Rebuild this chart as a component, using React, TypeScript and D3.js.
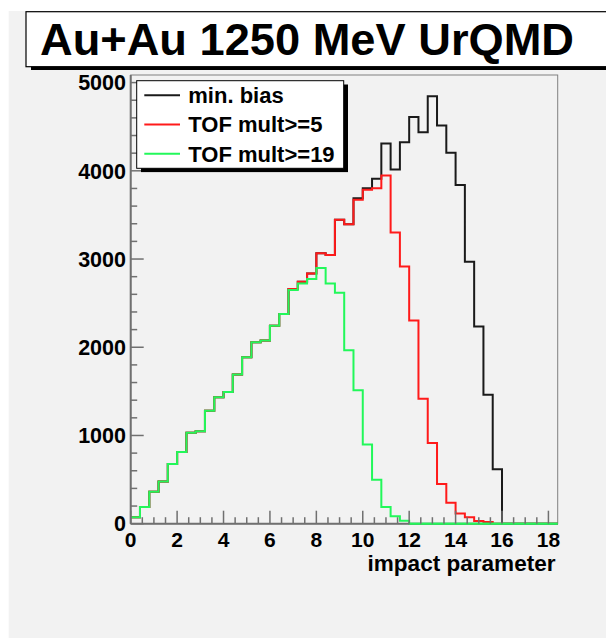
import React from "react";
import * as d3 from "d3";

// ---- data (bins of width 0.4 in impact parameter, 0 .. 18.4) ----
const binWidth = 0.4;
const xDomain = [0, 18.4];
const yDomain = [0, 5086];

const minBias = [
  72, 189, 362, 479, 678, 814, 1032, 1047, 1281, 1432, 1492, 1692, 1887, 2057, 2076, 2245, 2377,
  2660, 2742, 2836, 3066, 3047, 3446, 3394, 3690, 3801, 3910, 4310, 4016, 4324, 4610, 4437, 4844,
  4513, 4204, 3838, 2968, 2234, 1462, 618, 0, 0, 0, 0, 0, 0,
];
const tofMult5 = [
  72, 189, 362, 479, 678, 814, 1032, 1047, 1281, 1432, 1492, 1692, 1887, 2057, 2076, 2245, 2377,
  2660, 2742, 2836, 3066, 3047, 3446, 3394, 3672, 3785, 3801, 3948, 3300, 2915, 2302, 1417, 915,
  449, 237, 117, 72, 30, 19, 0, 0, 0, 0, 0, 0, 0,
];
const tofMult19 = [
  72, 189, 362, 479, 678, 814, 1032, 1047, 1281, 1432, 1492, 1692, 1887, 2057, 2076, 2245, 2377,
  2648, 2723, 2773, 2897, 2723, 2618, 1966, 1514, 897, 497, 189, 84, 34, 0, 0, 0, 0, 0, 0, 0, 0, 0,
  0, 0, 0, 0, 0, 0, 0,
];

const seriesNames = ["min. bias", "TOF mult>=5", "TOF mult>=19"];
const seriesColors = ["#1a1a1a", "#ff1a1a", "#22f85a"];
const xTickMajor = [0, 2, 4, 6, 8, 10, 12, 14, 16, 18];
const yTickMajor = [0, 1000, 2000, 3000, 4000, 5000];
const titleText = "Au+Au 1250 MeV UrQMD";
const xAxisTitle = "impact parameter";

const W = 606;
const H = 638;
const FONT = "'Liberation Sans', Arial, Helvetica, sans-serif";

export default function App() {
  const x = d3.scaleLinear().domain(xDomain).range([130.7, 557.7]);
  const y = d3.scaleLinear().domain(yDomain).range([523.7, 75]);

  const stepPath = (vals: number[]) => {
    const pts: [number, number][] = vals.map((v, i) => [i * binWidth, v]);
    pts.push([vals.length * binWidth, vals[vals.length - 1]]);
    return (
      d3
        .line<[number, number]>()
        .x((d) => x(d[0]))
        .y((d) => y(d[1]))
        .curve(d3.curveStepAfter)(pts) || ""
    );
  };

  const xMinor = d3.range(0, 18.4 + 1e-6, 0.5).filter((v) => Math.abs(v / 2 - Math.round(v / 2)) > 1e-6);
  const yMinor = d3.range(0, 5086, 200).filter((v) => v % 1000 !== 0);
  const axisCol = "#707070";
  const series = [minBias, tofMult5, tofMult19];

  return (
    <svg
      width={W}
      height={H}
      style={{ position: "absolute", left: 0, top: 0, display: "block" }}
      fontFamily={FONT}
    >
      <rect x={0} y={0} width={W} height={H} fill="#ffffff" />
      <rect x={8.7} y={11} width={W} height={H} fill="#f2f2f2" />

      {/* title box */}
      <rect x={31} y={16} width={W} height={54} fill="#000" />
      <rect x={26} y={11.7} width={W} height={55} fill="#fff" stroke="#000" strokeWidth={1.2} />
      <text x={40} y={55} fontSize={45} fontWeight="bold" fill="#000" textLength={534} lengthAdjust="spacingAndGlyphs">
        {titleText}
      </text>

      {/* frame */}
      <rect x={x(0)} y={y(yDomain[1])} width={x(xDomain[1]) - x(0)} height={y(0) - y(yDomain[1])} fill="none" stroke="#808080" strokeWidth={1} />

      {/* histograms */}
      {series.map((s, i) => (
        <path key={i} d={stepPath(s)} fill="none" stroke={seriesColors[i]} strokeWidth={2} />
      ))}

      {/* y axis */}
      <line x1={x(0)} x2={x(0)} y1={y(0)} y2={y(yDomain[1])} stroke={axisCol} strokeWidth={2} />
      {yTickMajor.map((t) => (
        <g key={"ym" + t}>
          <line x1={x(0)} x2={x(0) + 13} y1={y(t)} y2={y(t)} stroke={axisCol} strokeWidth={1.5} />
          <text x={126} y={y(t)} dy="0.36em" textAnchor="end" fontSize={21.5} fontWeight="bold" fill="#000">
            {t}
          </text>
        </g>
      ))}
      {yMinor.map((t) => (
        <line key={"yn" + t} x1={x(0)} x2={x(0) + 6.5} y1={y(t)} y2={y(t)} stroke={axisCol} strokeWidth={1.5} />
      ))}

      {/* x axis */}
      <line x1={x(0)} x2={x(xDomain[1])} y1={y(0)} y2={y(0)} stroke={axisCol} strokeWidth={2} />
      <path d={`M${x(12)},${y(0)}H${x(xDomain[1])}`} stroke={seriesColors[2]} strokeWidth={2} />
      {xTickMajor.map((t) => (
        <g key={"xm" + t}>
          <line x1={x(t)} x2={x(t)} y1={y(0)} y2={y(0) - 13} stroke={axisCol} strokeWidth={1.5} />
          <text x={x(t)} y={546.5} textAnchor="middle" fontSize={21} fontWeight="bold" fill="#000">
            {t}
          </text>
        </g>
      ))}
      {xMinor.map((t) => (
        <line key={"xn" + t} x1={x(t)} x2={x(t)} y1={y(0)} y2={y(0) - 6.5} stroke={axisCol} strokeWidth={1.5} />
      ))}
      <text x={555.5} y={571} textAnchor="end" fontSize={21.5} fontWeight="bold" fill="#000" textLength={188} lengthAdjust="spacingAndGlyphs">
        {xAxisTitle}
      </text>

      {/* legend */}
      <rect x={141} y={84.5} width={207} height={87.6} fill="#000" />
      <rect x={136.7} y={80.7} width={207} height={87.6} fill="#fff" stroke="#000" strokeWidth={1} />
      {seriesNames.map((n, i) => {
        const cy = 95.3 + i * 29.2;
        return (
          <g key={n}>
            <line x1={144.3} x2={180} y1={cy} y2={cy} stroke={seriesColors[i]} strokeWidth={2} />
            <text x={188.3} y={cy} dy="0.36em" fontSize={22} fontWeight="bold" fill="#000">
              {n}
            </text>
          </g>
        );
      })}
    </svg>
  );
}
